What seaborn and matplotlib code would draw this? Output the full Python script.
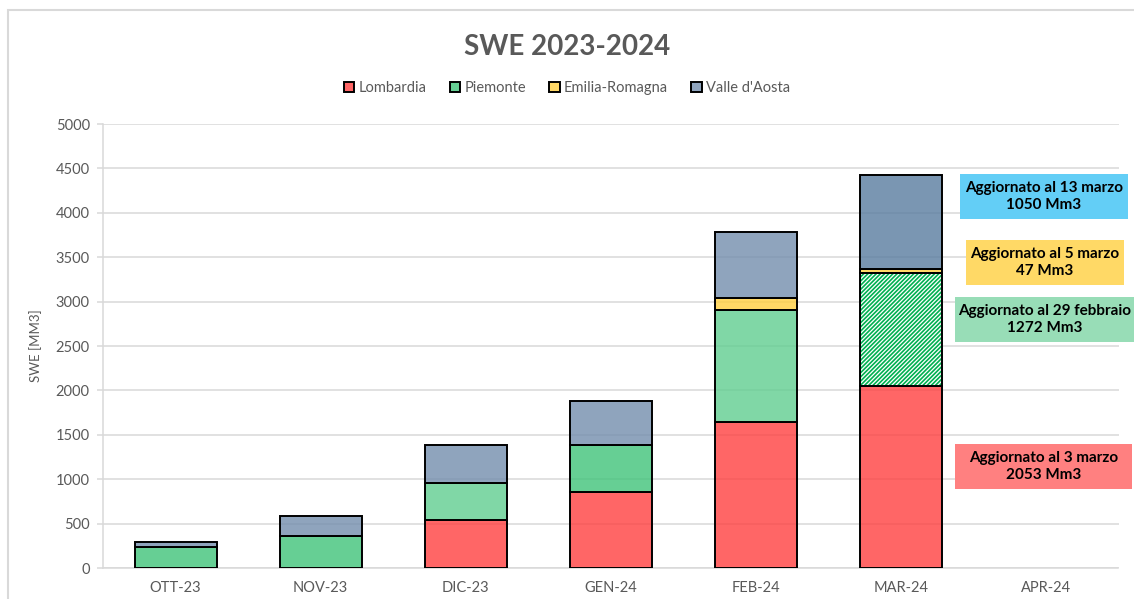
import numpy as np
import matplotlib
matplotlib.use("Agg")
import matplotlib.pyplot as plt
from matplotlib.colors import to_rgba
from matplotlib.patches import Patch, Rectangle
import seaborn as sns

# Monthly SWE (Mm3) per region
months = ["OTT-23", "NOV-23", "DIC-23", "GEN-24", "FEB-24", "MAR-24", "APR-24"]
lombardia = [0, 0, 537, 856, 1640, 2053]
piemonte = [235, 355, 425, 525, 1269, 1272]
emilia_romagna = [0, 0, 0, 0, 127, 47]
valle_aosta = [58, 230, 420, 503, 748, 1050]

regions = ["Lombardia", "Piemonte", "Emilia-Romagna", "Valle d'Aosta"]
series = [lombardia, piemonte, emilia_romagna, valle_aosta]

note_lines = [
    ("Aggiornato al 13 marzo", "1050 Mm3"),
    ("Aggiornato al 5 marzo", "47 Mm3"),
    ("Aggiornato al 29 febbraio", "1272 Mm3"),
    ("Aggiornato al 3 marzo", "2053 Mm3"),
]

# styling
colors = ["#FF4040", "#40C37A", "#FFCF40", "#738EAD"]
light_green = "#60CE90"      # DIC / FEB Piemonte
dark_blue = "#597C9F"        # MAR Valle d'Aosta
note_colors = ["#63CEF6", "#FFD966", "#98DDB7", "#FF8080"]
note_boxes = [(960, 174, 1128, 219), (966, 240, 1124, 285),
              (955, 297, 1134, 342), (955, 444, 1132, 489)]
grey = "#595959"
W, H = 1134, 599

sns.set_theme(style="white")
plt.rcParams["font.family"] = ["Lato", "DejaVu Sans"]
plt.rcParams["hatch.linewidth"] = 1.2

fig, ax = plt.subplots(figsize=(W / 100, H / 100), dpi=100)
fig.subplots_adjust(left=103 / W, right=1118.5 / W, bottom=1 - 568 / H, top=1 - 124 / H)

x = months[:len(lombardia)]
bottom = np.zeros(len(x))
containers = {}
for name, values, color in zip(regions, series, colors):
    sns.barplot(x=x, y=values, order=months, bottom=bottom, color=color,
                saturation=1, width=0.565, edgecolor="black", linewidth=1.4,
                errorbar=None, ax=ax, zorder=3)
    containers[name] = ax.containers[-1]
    bottom = bottom + np.array(values)

for name, color in zip(regions, colors):
    for i, p in enumerate(containers[name]):
        c = color
        if name == "Piemonte" and months[i] in ("DIC-23", "FEB-24"):
            c = light_green
        if name == "Valle d'Aosta" and months[i] == "MAR-24":
            c = dark_blue
        p.set_facecolor(to_rgba(c, 0.8))

# hatched Piemonte for MAR-24
p = containers["Piemonte"][months.index("MAR-24")]
p.set_facecolor("white")
p.set_edgecolor("#00B050")
p.set_hatch("/" * 8)
p.set_linewidth(0)
ax.add_patch(Rectangle((p.get_x(), p.get_y()), p.get_width(), p.get_height(),
                       fill=False, edgecolor="black", linewidth=1.4, zorder=4))

ax.set_ylim(0, 5000)
ax.set_xlim(-0.5, len(months) - 0.5)
ax.set_yticks(range(0, 5001, 500))
ax.yaxis.grid(True, color="#D9D9D9", linewidth=1.1)
ax.set_axisbelow(True)
for s in ["top", "right"]:
    ax.spines[s].set_visible(False)
for s in ["left", "bottom"]:
    ax.spines[s].set_color("#D9D9D9")
    ax.spines[s].set_linewidth(1.1)
ax.tick_params(axis="y", length=4.5, color="#D9D9D9", width=1.1, pad=5,
               labelsize=10.5, labelcolor=grey, left=True)
ax.tick_params(axis="x", length=0, pad=9, labelsize=10.5, labelcolor=grey)
ax.set_xlabel("")
ax.set_ylabel("SWE [MM3]", fontsize=9.5, color=grey, labelpad=10)

fig.suptitle("SWE 2023-2024", x=0.5, y=1 - 47 / H, va="center",
             fontsize=20, fontweight="bold", color=grey)

handles = [Patch(facecolor=to_rgba(c, 0.8), edgecolor="black", linewidth=1.4)
           for c in colors]
fig.legend(handles, regions, loc="center", bbox_to_anchor=(0.5, 1 - 88 / H),
           ncol=4, frameon=False, handlelength=0.7, handleheight=0.7,
           handletextpad=0.3, columnspacing=1.6, fontsize=10.5,
           labelcolor=grey)

for (l1, l2), c, (x0, y0, x1, y1) in zip(note_lines, note_colors, note_boxes):
    fig.add_artist(Rectangle((x0 / W, 1 - y1 / H), (x1 - x0) / W, (y1 - y0) / H,
                             transform=fig.transFigure, facecolor=c,
                             edgecolor="none", zorder=5))
    fig.text((x0 + x1) / 2 / W, 1 - (y0 + y1) / 2 / H, l1 + "\n" + l2,
             ha="center", va="center", fontsize=11, fontweight="bold",
             color="black", linespacing=1.2, zorder=6)

# outer chart frame
fig.add_artist(Rectangle((8 / W, -0.1), 1.2, 1.1 - 10 / H,
                         transform=fig.transFigure, fill=False,
                         edgecolor="#D9D9D9", linewidth=1.5))

fig.savefig("out.png", dpi=100)
